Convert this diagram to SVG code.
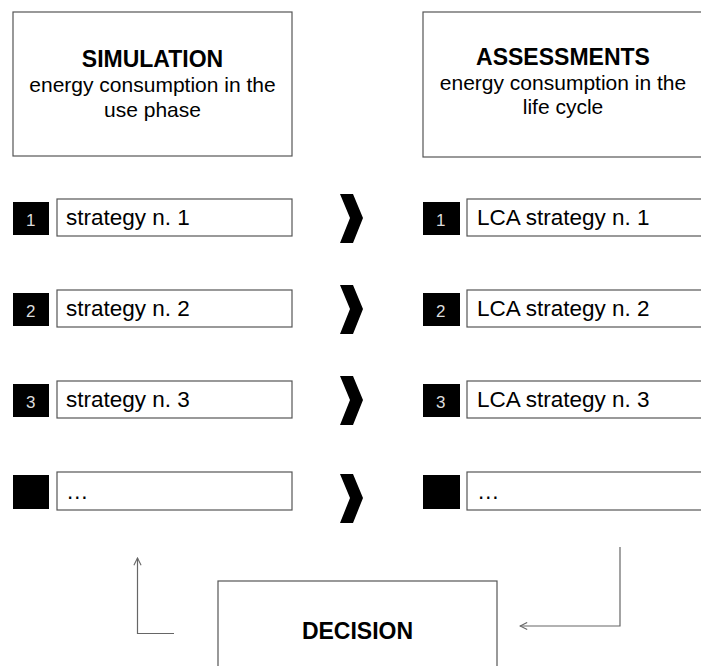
<svg xmlns="http://www.w3.org/2000/svg" width="701" height="666" viewBox="0 0 701 666">
<style>
.box{fill:#fff;stroke:#555;stroke-width:1.2}
.sq{fill:#000}
.num{font-family:"Liberation Sans",Arial,sans-serif;font-size:17px;fill:#ddd}
.t{font-family:"Liberation Sans",Arial,sans-serif;font-size:21px;fill:#000}
.r{font-family:"Liberation Sans",Arial,sans-serif;font-size:22.5px;fill:#000}
.b{font-family:"Liberation Sans",Arial,sans-serif;font-size:23px;font-weight:bold;fill:#000}
.chev{fill:#000}
.conn{fill:none;stroke:#666;stroke-width:1.2}
</style>
<defs>
<marker id="ah" viewBox="0 0 10 10" refX="9" refY="5" markerWidth="9" markerHeight="9" orient="auto" markerUnits="userSpaceOnUse">
<path d="M1,1 L9,5 L1,9" fill="none" stroke="#666" stroke-width="1.2"/>
</marker>
<polygon id="chevron" points="0,0 13,0 23,24 13,49 0,49 10,24"/>
</defs>
<rect width="701" height="666" fill="#fff"/>

<g id="simulation">
<rect class="box" x="13" y="12" width="279" height="144"/>
<text class="b" x="152.5" y="67" text-anchor="middle">SIMULATION</text>
<text class="t" x="152.5" y="92" text-anchor="middle">energy consumption in the</text>
<text class="t" x="152.5" y="117" text-anchor="middle">use phase</text>
</g>
<g id="assessments">
<rect class="box" x="423" y="12" width="282" height="145"/>
<text class="b" x="563" y="65" text-anchor="middle">ASSESSMENTS</text>
<text class="t" x="563" y="90" text-anchor="middle">energy consumption in the</text>
<text class="t" x="563" y="114" text-anchor="middle">life cycle</text>
</g>

<g id="sim1"><rect class="sq" x="13" y="202" width="36" height="33"/><text class="num" x="26" y="226">1</text>
<rect class="box" x="57" y="199" width="235" height="37"/><text class="r" x="66" y="225">strategy n. 1</text></g>
<g id="sim2"><rect class="sq" x="13" y="293" width="36" height="33"/><text class="num" x="26" y="317">2</text>
<rect class="box" x="57" y="290" width="235" height="37"/><text class="r" x="66" y="316">strategy n. 2</text></g>
<g id="sim3"><rect class="sq" x="13" y="384" width="36" height="33"/><text class="num" x="26" y="408">3</text>
<rect class="box" x="57" y="381" width="235" height="37"/><text class="r" x="66" y="407">strategy n. 3</text></g>
<g id="sim4"><rect class="sq" x="13" y="475" width="36" height="34"/>
<rect class="box" x="57" y="472" width="235" height="38"/><text class="r" x="66" y="499">…</text></g>

<g id="lca1"><rect class="sq" x="423" y="202" width="37" height="33"/><text class="num" x="436" y="226">1</text>
<rect class="box" x="467" y="199" width="240" height="37"/><text class="r" x="477" y="225">LCA strategy n. 1</text></g>
<g id="lca2"><rect class="sq" x="423" y="293" width="37" height="33"/><text class="num" x="436" y="317">2</text>
<rect class="box" x="467" y="290" width="240" height="37"/><text class="r" x="477" y="316">LCA strategy n. 2</text></g>
<g id="lca3"><rect class="sq" x="423" y="384" width="37" height="33"/><text class="num" x="436" y="408">3</text>
<rect class="box" x="467" y="381" width="240" height="37"/><text class="r" x="477" y="407">LCA strategy n. 3</text></g>
<g id="lca4"><rect class="sq" x="423" y="475" width="37" height="34"/>
<rect class="box" x="467" y="472" width="240" height="38"/><text class="r" x="477" y="499">…</text></g>

<g id="decision">
<rect class="box" x="218" y="581" width="279" height="100"/>
<text class="b" x="357.5" y="639" text-anchor="middle">DECISION</text>
</g>

<g id="connectors">
<use href="#chevron" class="chev" x="340" y="194"/>
<use href="#chevron" class="chev" x="340" y="285"/>
<use href="#chevron" class="chev" x="340" y="376"/>
<use href="#chevron" class="chev" x="340" y="474"/>
<path class="conn" d="M174,633.5 H137.5 V558" marker-end="url(#ah)"/>
<path class="conn" d="M620,547 V626 H520" marker-end="url(#ah)"/>
</g>
</svg>
